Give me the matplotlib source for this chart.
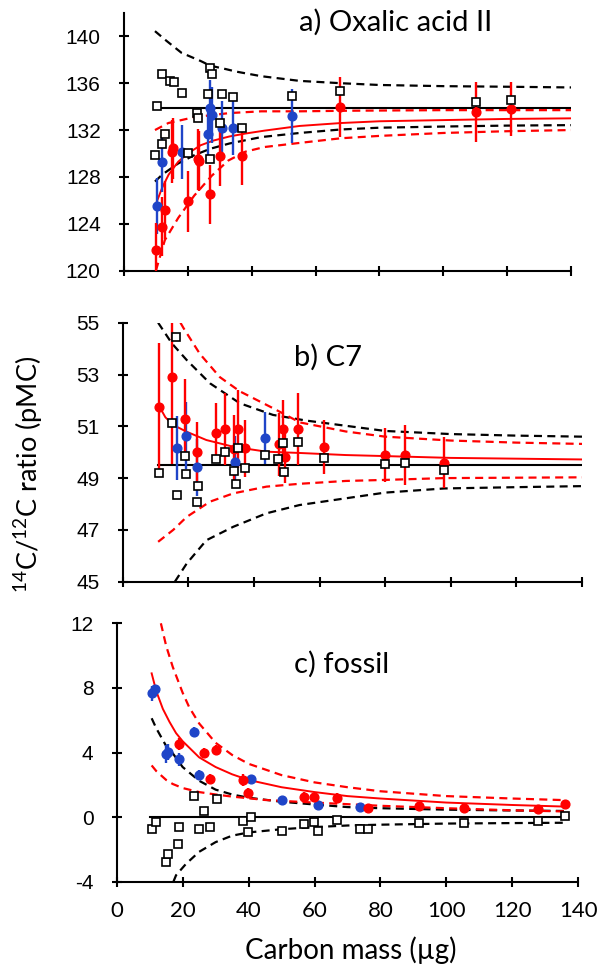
import numpy as np
import matplotlib.pyplot as plt

plt.rcParams['axes.unicode_minus'] = False
plt.rcParams['mathtext.fontset'] = 'custom'
plt.rcParams['mathtext.rm'] = 'Lato'

RED = '#ff0000'
BLUE = '#1f45c8'

# a) Oxalic acid II
a_sq_x = [10.2, 11.8, 14.4, 15.8, 18.1, 9.7, 11.8, 12.8, 19.9, 22.8, 23.3, 26.9, 27.7, 26.2,
          26.9, 30.8, 30.1, 34.2, 36.9, 52.5, 67.7, 110.2, 121.3]
a_sq_y = [134.05, 136.75, 136.2, 136.07, 135.2, 129.9, 130.78, 131.68, 130.06, 133.42, 133.0,
          137.32, 136.75, 135.1, 129.5, 135.1, 132.57, 134.82, 132.14, 134.9, 135.3, 134.4, 134.6]
a_red_x = [9.9, 12.0, 12.8, 14.9, 15.4, 19.9, 23.1, 23.5, 26.9, 30.1, 36.9, 67.6, 110.2, 121.3]
a_red_y = [121.75, 123.74, 125.17, 130.15, 130.43, 125.93, 129.52, 129.35, 126.5, 129.8, 129.8,
           133.94, 133.56, 133.8]
a_red_e = [2.3, 2.5, 2.5, 2.7, 2.6, 2.6, 2.6, 2.6, 2.5, 2.55, 2.5, 2.55, 2.55, 2.3]
a_blue_x = [10.2, 12.0, 18.1, 26.2, 26.9, 27.7, 30.8, 34.2, 52.5]
a_blue_y = [125.53, 129.24, 130.15, 131.7, 133.9, 133.3, 132.2, 132.2, 133.2]
a_blue_e = [2.4, 2.5, 2.3, 2.4, 2.35, 2.4, 2.3, 2.3, 2.3]
a_mean = 133.9
a_fit_x = [10.3, 12, 14, 17, 20, 24, 28, 33, 38, 44, 55, 68, 80, 100, 120, 140]
a_fit_y = [125.9, 127.1, 128.2, 129.3, 130.0, 130.7, 131.1, 131.45, 131.7, 131.95, 132.35,
           132.6, 132.75, 132.85, 132.95, 133.0]
a_rup_x = [9.7, 13.9, 22, 33, 43, 55, 70, 100, 140]
a_rup_y = [132.0, 132.6, 133.1, 133.45, 133.6, 133.6, 133.65, 133.7, 133.7]
a_rlo_x = [10, 12.8, 17, 22, 27.5, 32.7, 38, 44, 55, 68, 80, 100, 120, 140]
a_rlo_y = [120.0, 122.6, 124.5, 126.4, 128.1, 129.4, 130.15, 130.55, 130.9, 131.3, 131.5,
           131.75, 131.9, 132.0]
a_kup_x = [9.7, 13.4, 18, 24, 27, 32, 35, 43, 55, 68, 80, 100, 120, 140]
a_kup_y = [140.45, 139.6, 138.6, 137.9, 137.5, 137.2, 137.0, 136.6, 136.2, 136.0, 135.85,
           135.75, 135.7, 135.64]
a_klo_x = [9.7, 12, 17, 22, 27, 33, 43, 55, 68, 80, 100, 120, 140]
a_klo_y = [127.6, 128.2, 129.15, 129.85, 130.4, 130.85, 131.4, 131.75, 132.05, 132.2, 132.3,
           132.38, 132.42]

# b) C7
b_sq_x = [11.1, 16.2, 14.9, 16.6, 19.0, 19.3, 22.9, 22.6, 28.3, 31.1, 33.9, 34.5, 35.2, 37.3,
          43.4, 47.4, 48.8, 49.3, 53.3, 61.4, 80.0, 86.1, 97.9]
b_sq_y = [49.2, 54.46, 51.12, 48.35, 49.87, 49.15, 48.71, 48.09, 49.72, 50.02, 49.29, 48.76,
          50.15, 49.4, 49.89, 49.72, 50.34, 49.25, 50.41, 49.76, 49.54, 49.57, 49.31]
b_red_x = [11.2, 14.9, 19.1, 22.7, 28.3, 31.1, 33.8, 35.1, 37.3, 47.5, 48.8, 49.4, 53.4, 61.4,
           80.0, 86.1, 97.9]
b_red_y = [51.76, 52.9, 51.28, 50.02, 50.73, 50.9, 50.12, 50.9, 50.16, 50.3, 50.9, 49.82, 50.9,
           50.21, 49.89, 49.89, 49.6]
b_red_e = [2.45, 3.35, 1.55, 1.13, 1.16, 1.38, 1.3, 1.5, 1.1, 1.2, 1.1, 1.0, 1.38, 1.05, 1.03,
           1.15, 1.0]
b_blue_x = [16.6, 19.3, 22.5, 34.3, 43.5]
b_blue_y = [50.16, 50.64, 49.41, 49.63, 50.56]
b_blue_e = [1.25, 1.3, 1.1, 1.0, 1.0]
b_mean = 49.5
b_fit_x = [11.2, 13, 15.4, 19.5, 25.5, 33.7, 43.8, 54, 68, 80, 100, 140]
b_fit_y = [51.76, 51.35, 51.05, 50.79, 50.47, 50.21, 50.02, 49.97, 49.89, 49.85, 49.78, 49.72]
b_rup_x = [17.6, 18.5, 23.5, 29.6, 35.7, 45.8, 54, 68, 80, 100, 120, 140]
b_rup_y = [55.0, 54.8, 53.8, 52.9, 52.35, 51.7, 51.15, 50.8, 50.6, 50.45, 50.37, 50.32]
b_rlo_x = [10.8, 15.4, 19.5, 26.6, 33.7, 43.8, 53.9, 68, 80, 98, 140]
b_rlo_y = [46.54, 47.0, 47.5, 48.09, 48.41, 48.67, 48.78, 48.89, 48.93, 49.0, 49.03]
b_kup_x = [10.8, 15, 19.5, 26.6, 35.7, 45.8, 56, 68, 80, 100, 120, 140]
b_kup_y = [55.0, 54.2, 53.56, 52.66, 51.89, 51.44, 51.22, 51.02, 50.82, 50.7, 50.64, 50.6]
b_klo_x = [15.9, 19.5, 25.5, 33.7, 43.8, 53.9, 68, 80, 98, 120, 140]
b_klo_y = [45.0, 45.7, 46.6, 47.12, 47.64, 47.96, 48.22, 48.44, 48.6, 48.65, 48.69]

# c) fossil
c_sq_x = [10.6, 11.9, 14.9, 15.7, 18.7, 19.0, 23.5, 25.0, 26.6, 28.3, 30.3, 38.2, 39.9, 40.6,
          50.0, 56.8, 59.9, 61.1, 66.9, 73.8, 76.3, 91.7, 105.3, 127.7, 136.0]
c_sq_y = [-0.76, -0.28, -2.76, -2.29, -1.67, -0.59, 1.31, -0.72, 0.4, -0.59, 1.1, -0.22, -0.9,
          0.0, -0.84, -0.43, -0.32, -0.84, -0.18, -0.76, -0.76, -0.35, -0.35, -0.22, 0.07]
c_red_x = [18.9, 26.6, 30.1, 28.3, 38.2, 39.9, 56.8, 59.9, 66.9, 76.3, 91.7, 105.3, 127.7, 136.0]
c_red_y = [4.53, 3.95, 4.16, 2.36, 2.3, 1.51, 1.27, 1.22, 1.2, 0.54, 0.69, 0.54, 0.48, 0.81]
c_red_e = [0.35, 0.3, 0.3, 0.3, 0.35, 0.3, 0.3, 0.3, 0.3, 0.25, 0.25, 0.25, 0.25, 0.25]
c_blue_x = [10.6, 11.6, 14.9, 15.7, 18.8, 23.4, 25.0, 40.6, 50.0, 61.1, 73.8]
c_blue_y = [7.66, 7.91, 3.91, 4.05, 3.58, 5.29, 2.6, 2.36, 1.06, 0.75, 0.61]
c_blue_e = [0.45, 0.3, 0.55, 0.5, 0.4, 0.3, 0.3, 0.25, 0.2, 0.2, 0.2]
c_mean = 0.0
c_fit_x = [10.6, 12, 14, 16, 18, 20, 25, 30, 35, 40, 50, 60, 70, 80, 100, 120, 136]
c_fit_y = [8.9, 7.8, 6.7, 5.9, 5.2, 4.7, 3.7, 3.1, 2.65, 2.3, 1.85, 1.55, 1.3, 1.15, 0.9, 0.75, 0.65]
c_rup_x = [13.4, 15, 17, 20, 22, 25, 30, 35, 40, 50, 60, 70, 80, 100, 120, 136]
c_rup_y = [12.0, 10.6, 9.3, 7.7, 6.8, 5.8, 4.6, 3.85, 3.3, 2.6, 2.15, 1.85, 1.6, 1.3, 1.15, 1.05]
c_rlo_x = [10.6, 12, 15, 17, 20, 25, 30, 35, 45, 55, 65, 80, 100, 120, 136]
c_rlo_y = [3.2, 2.85, 2.3, 2.05, 1.8, 1.55, 1.4, 1.27, 1.06, 0.95, 0.85, 0.7, 0.55, 0.42, 0.35]
c_kup_x = [10.6, 12, 15, 17, 20, 25, 30, 35, 40, 50, 60, 70, 80, 100, 120, 136]
c_kup_y = [6.12, 5.5, 4.4, 3.95, 3.1, 2.25, 1.7, 1.4, 1.2, 0.95, 0.78, 0.62, 0.55, 0.46, 0.41, 0.38]
c_klo_x = [17.2, 18, 21, 25, 30, 35, 40, 50, 60, 70, 80, 100, 120, 136]
c_klo_y = [-4.0, -3.6, -2.9, -2.15, -1.55, -1.15, -0.95, -0.75, -0.62, -0.52, -0.47, -0.4,
           -0.37, -0.35]

DASH = (3.6, 2.4)


def draw_panel(ax, sq, red, blue, mean, mean_x, fit, rup, rlo, kup, klo):
    ax.plot(mean_x, [mean, mean], color='black', lw=1.5, zorder=2)
    ax.plot(*kup, color='black', lw=1.6, ls=(0, DASH), zorder=2)
    ax.plot(*klo, color='black', lw=1.6, ls=(0, DASH), zorder=2)
    ax.plot(*rup, color=RED, lw=1.6, ls=(0, DASH), zorder=2)
    ax.plot(*rlo, color=RED, lw=1.6, ls=(0, DASH), zorder=2)
    ax.plot(*fit, color=RED, lw=1.4, zorder=2)
    ax.errorbar(blue[0], blue[1], yerr=blue[2], fmt='o', color=BLUE, ms=6.3, elinewidth=1.7,
                capsize=0, zorder=3)
    ax.errorbar(red[0], red[1], yerr=red[2], fmt='o', color=RED, ms=6.3, elinewidth=1.7,
                capsize=0, zorder=3)
    ax.plot(sq[0], sq[1], 's', mfc='white', mec='black', mew=1.2, ms=5.2, ls='none', zorder=4)
    for s in ['top', 'right']:
        ax.spines[s].set_visible(False)
    for s in ['left', 'bottom']:
        ax.spines[s].set_linewidth(1.5)
    ax.set_xlim(0, 140)
    ax.set_xticks(np.arange(0, 141, 20))
    ax.tick_params(direction='inout', length=7.5, width=1.5, colors='black')
    ax.tick_params(axis='y', pad=13, labelsize=15)
    for lab in ax.get_yticklabels():
        lab.set_family('Liberation Sans')


fig = plt.figure(figsize=(6.01, 9.75), dpi=100)
W, H = 601, 975


def add_ax(x0, x1, ytop, ybot):
    return fig.add_axes([x0 / W, 1 - ybot / H, (x1 - x0) / W, (ybot - ytop) / H])


ax_a = add_ax(124, 571, 13, 270.5)
draw_panel(ax_a, (a_sq_x, a_sq_y), (a_red_x, a_red_y, a_red_e), (a_blue_x, a_blue_y, a_blue_e),
           a_mean, [10, 140], (a_fit_x, a_fit_y), (a_rup_x, a_rup_y), (a_rlo_x, a_rlo_y),
           (a_kup_x, a_kup_y), (a_klo_x, a_klo_y))
ax_a.set_ylim(120, 142)
ax_a.set_yticks(np.arange(120, 141, 4))
ax_a.set_xticklabels([])

ax_b = add_ax(122.7, 582, 322.7, 581.7)
draw_panel(ax_b, (b_sq_x, b_sq_y), (b_red_x, b_red_y, b_red_e), (b_blue_x, b_blue_y, b_blue_e),
           b_mean, [10.8, 140], (b_fit_x, b_fit_y), (b_rup_x, b_rup_y), (b_rlo_x, b_rlo_y),
           (b_kup_x, b_kup_y), (b_klo_x, b_klo_y))
ax_b.set_ylim(45, 55)
ax_b.set_yticks(np.arange(45, 56, 2))
ax_b.set_xticklabels([])

ax_c = add_ax(116.7, 578.3, 623.3, 881.7)
draw_panel(ax_c, (c_sq_x, c_sq_y), (c_red_x, c_red_y, c_red_e), (c_blue_x, c_blue_y, c_blue_e),
           c_mean, [10.1, 136], (c_fit_x, c_fit_y), (c_rup_x, c_rup_y), (c_rlo_x, c_rlo_y),
           (c_kup_x, c_kup_y), (c_klo_x, c_klo_y))
ax_c.set_ylim(-4, 12)
ax_c.set_yticks(np.arange(-4, 13, 4))
ax_c.tick_params(axis='x', pad=10, labelsize=16)
for lab in ax_c.get_xticklabels():
    lab.set_family('Lato')
for lab in ax_c.get_yticklabels():
    lab.set_family('Liberation Sans')

fig.text(396 / W, 1 - 22 / H, 'a) Oxalic acid II', family='Lato', fontsize=21, ha='center', va='center')
fig.text(328.5 / W, 1 - 357 / H, 'b) C7', family='Lato', fontsize=21, ha='center', va='center')
fig.text(341.5 / W, 1 - 664 / H, 'c) fossil', family='Lato', fontsize=21, ha='center', va='center')
fig.text(351 / W, 1 - 950 / H, 'Carbon mass (µg)', family='Lato', fontsize=20, ha='center', va='center')
fig.text(28 / W, 1 - 474 / H, '$^{14}$C/$^{12}$C ratio (pMC)', family='Lato', fontsize=19.5,
         rotation=90, ha='center', va='center')

fig.savefig('out.png', dpi=100)
